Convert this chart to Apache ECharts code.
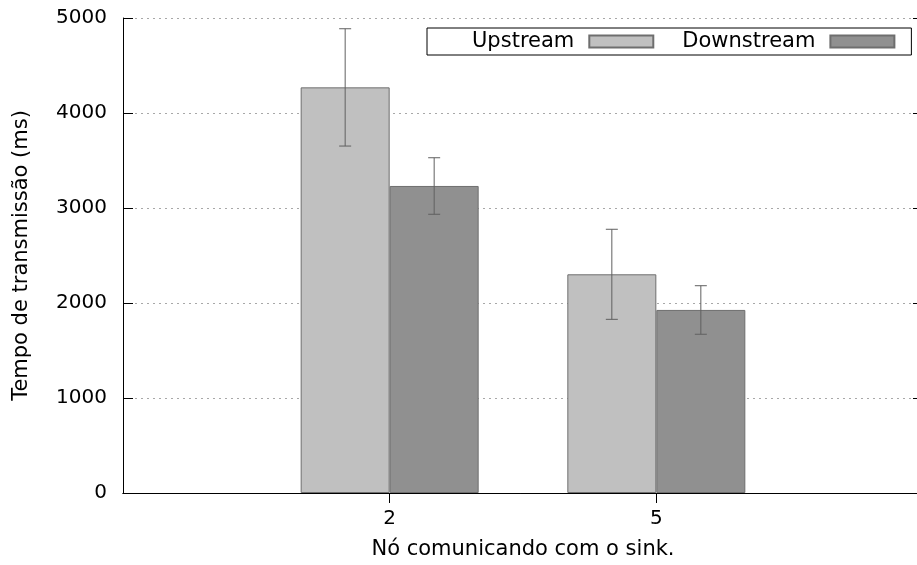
<!DOCTYPE html>
<html>
<head>
<meta charset="utf-8">
<script src="https://cdn.jsdelivr.net/npm/echarts@6/dist/echarts.min.js"></script>
<style>
  html, body { margin: 0; padding: 0; background: #fff; }
  #chart { width: 917px; height: 565px; }
</style>
</head>
<body>
<div id="chart"></div>
<script>
// Category slots: the outer empty ones pad the axis on both sides
const categories = ['', '2', '5', ''];
const seriesNames = ['Upstream', 'Downstream'];
const upstream = [null, 4270, 2302, null];
const downstream = [null, 3232, 1927, null];
// Error ranges [slot, low, high]
const upstreamErr = [[1, 3652, 4887], [2, 1828, 2776]];
const downstreamErr = [[1, 2934, 3529], [2, 1671, 2182]];
const yTicks = [0, 1000, 2000, 3000, 4000, 5000];

const FONT = 'DejaVu Sans';
const BAR_W = 89;

function errorSeries(name, data, shift) {
  return {
    name: name + ' err',
    type: 'custom',
    z: 5,
    silent: true,
    data: data,
    renderItem: function (params, api) {
      const top = api.coord([api.value(0), api.value(2)]);
      const bot = api.coord([api.value(0), api.value(1)]);
      const x = top[0] + shift;
      const cap = 6;
      const style = { stroke: '#606060', lineWidth: 1 };
      return {
        type: 'group',
        children: [
          { type: 'line', shape: { x1: x, y1: top[1], x2: x, y2: bot[1] }, style: style },
          { type: 'line', shape: { x1: x - cap, y1: top[1], x2: x + cap, y2: top[1] }, style: style },
          { type: 'line', shape: { x1: x - cap, y1: bot[1], x2: x + cap, y2: bot[1] }, style: style }
        ]
      };
    }
  };
}

const chart = echarts.init(document.getElementById('chart'), null, { renderer: 'canvas' });
chart.setOption({
  animation: false,
  backgroundColor: '#ffffff',
  textStyle: { fontFamily: FONT },
  // the frame runs slightly past the right edge of the page
  grid: { left: 123, top: 18, width: 800, height: 475, containLabel: false, outerBoundsMode: 'none' },
  legend: {
    data: seriesNames,
    left: 427,
    top: 28,
    width: 700,
    align: 'right',
    orient: 'horizontal',
    icon: 'rect',
    itemWidth: 64,
    itemHeight: 12,
    itemGap: 28,
    borderColor: '#000',
    borderWidth: 1,
    padding: [3, 16, 3, 45],
    textStyle: { fontFamily: FONT, fontSize: 21, color: '#000', lineHeight: 14, padding: [0, 10, 0, 0] }
  },
  xAxis: [
    {
      type: 'category',
      data: categories,
      boundaryGap: false,
      position: 'bottom',
      axisLine: { show: true, lineStyle: { color: '#000', width: 1 } },
      axisTick: { show: false },
      axisLabel: { fontFamily: FONT, fontSize: 20, color: '#000', margin: 16, interval: 0 },
      splitLine: { show: false },
      name: 'Nó comunicando com o sink.',
      nameLocation: 'middle',
      nameGap: 46,
      nameTextStyle: { fontFamily: FONT, fontSize: 21, color: '#000' }
    },
    {
      type: 'category',
      data: categories,
      boundaryGap: false,
      position: 'top',
      axisLine: { show: true, lineStyle: { color: '#000', width: 1 } },
      axisTick: { show: true, inside: true, length: 10, lineStyle: { color: '#000' },
        interval: function (i) { return i === 1 || i === 2; } },
      axisLabel: { show: false },
      splitLine: { show: false }
    }
  ],
  yAxis: [
    {
      type: 'value',
      min: yTicks[0],
      max: yTicks[yTicks.length - 1],
      interval: 1000,
      position: 'left',
      axisLine: { show: true, lineStyle: { color: '#000', width: 1 } },
      axisTick: { show: true, inside: true, length: 10, lineStyle: { color: '#000' } },
      axisLabel: { fontFamily: FONT, fontSize: 20, color: '#000', margin: 16,
        formatter: function (v) { return String(v); } },
      splitLine: { show: true, lineStyle: { color: '#a8a8a8', width: 1, type: [2, 4] } },
      name: 'Tempo de transmissão (ms)',
      nameLocation: 'middle',
      nameGap: 91,
      nameTextStyle: { fontFamily: FONT, fontSize: 21, color: '#000' }
    },
    {
      type: 'value',
      min: yTicks[0],
      max: yTicks[yTicks.length - 1],
      interval: 1000,
      position: 'right',
      axisLine: { show: true, lineStyle: { color: '#000', width: 1 } },
      axisTick: { show: true, inside: true, length: 10, lineStyle: { color: '#000' } },
      axisLabel: { show: false },
      splitLine: { show: false }
    }
  ],
  series: [
    {
      name: seriesNames[0],
      type: 'bar',
      data: upstream,
      barWidth: BAR_W,
      barGap: '0%',
      itemStyle: { color: '#c0c0c0', borderColor: '#6e6e6e', borderWidth: 1 }
    },
    {
      name: seriesNames[1],
      type: 'bar',
      data: downstream,
      barWidth: BAR_W,
      barGap: '0%',
      itemStyle: { color: '#909090', borderColor: '#6e6e6e', borderWidth: 1 }
    },
    errorSeries(seriesNames[0], upstreamErr, -BAR_W / 2),
    errorSeries(seriesNames[1], downstreamErr, BAR_W / 2)
  ]
});
</script>
</body>
</html>
